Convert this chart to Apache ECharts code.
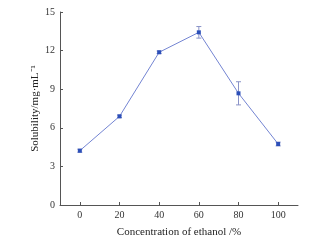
<!DOCTYPE html>
<html>
<head>
<meta charset="utf-8">
<script src="https://cdn.jsdelivr.net/npm/echarts@6/dist/echarts.min.js"></script>
<style>
  html, body { margin: 0; padding: 0; background: #fff; }
  #main { width: 324px; height: 242px; }
</style>
</head>
<body>
<div id="main"></div>
<script>
// ethanol concentration (%) and solubility (mg/mL) with error
const concentration = [0, 20, 40, 60, 80, 100]
const solubility = [4.22, 6.89, 11.87, 13.42, 8.68, 4.74]
const errors = [0.12, 0.1, 0.1, 0.45, 0.9, 0.15]
const xTicks = [0, 20, 40, 60, 80, 100]

const myChart = echarts.init(document.getElementById('main'))

const axisColor = '#555'
const font = 'Liberation Serif'

const lineData = concentration.map((c, i) => [c, solubility[i]])
const errData = concentration.map((c, i) => [c, solubility[i] - errors[i], solubility[i] + errors[i]])

const option = {
  animation: false,
  grid: { left: 60, right: 26, top: 12, bottom: 37, outerBoundsMode: 'none' },
  xAxis: {
    type: 'value',
    min: -10,
    max: 110,
    name: 'Concentration of ethanol /%',
    nameLocation: 'middle',
    nameGap: 22,
    nameTextStyle: { fontFamily: font, fontSize: 11, color: '#222' },
    axisLine: { onZero: false, lineStyle: { color: axisColor, width: 1 } },
    axisTick: { inside: true, length: 3, customValues: xTicks, lineStyle: { color: axisColor } },
    axisLabel: { customValues: xTicks, fontFamily: font, fontSize: 10, color: '#333', margin: 5 },
    splitLine: { show: false }
  },
  yAxis: {
    type: 'value',
    min: 0,
    max: 15,
    interval: 3,
    name: 'Solubility/mg·mL⁻¹',
    nameLocation: 'middle',
    nameGap: 19,
    nameMoveOverlap: false,
    nameRotate: 90,
    nameTextStyle: { fontFamily: font, fontSize: 11, color: '#222' },
    axisLine: { show: true, onZero: false, lineStyle: { color: axisColor, width: 1 } },
    axisTick: { show: true, inside: true, length: 3, lineStyle: { color: axisColor } },
    axisLabel: { fontFamily: font, fontSize: 10, color: '#333', margin: 5 },
    splitLine: { show: false }
  },
  series: [
    {
      type: 'custom',
      data: errData,
      z: 1,
      renderItem: function (params, api) {
        const x = api.value(0)
        const lo = api.coord([x, api.value(1)])
        const hi = api.coord([x, api.value(2)])
        const w = 2.5
        const style = { stroke: '#8a93c8', lineWidth: 1 }
        return {
          type: 'group',
          children: [
            { type: 'line', shape: { x1: lo[0], y1: lo[1], x2: hi[0], y2: hi[1] }, style: style },
            { type: 'line', shape: { x1: lo[0] - w, y1: lo[1], x2: lo[0] + w, y2: lo[1] }, style: style },
            { type: 'line', shape: { x1: hi[0] - w, y1: hi[1], x2: hi[0] + w, y2: hi[1] }, style: style }
          ]
        }
      }
    },
    {
      type: 'line',
      data: lineData,
      z: 2,
      symbol: 'rect',
      symbolSize: 4,
      lineStyle: { color: '#7384d2', width: 1 },
      itemStyle: { color: '#2c4fb8' }
    }
  ]
}

myChart.setOption(option)
</script>
</body>
</html>
